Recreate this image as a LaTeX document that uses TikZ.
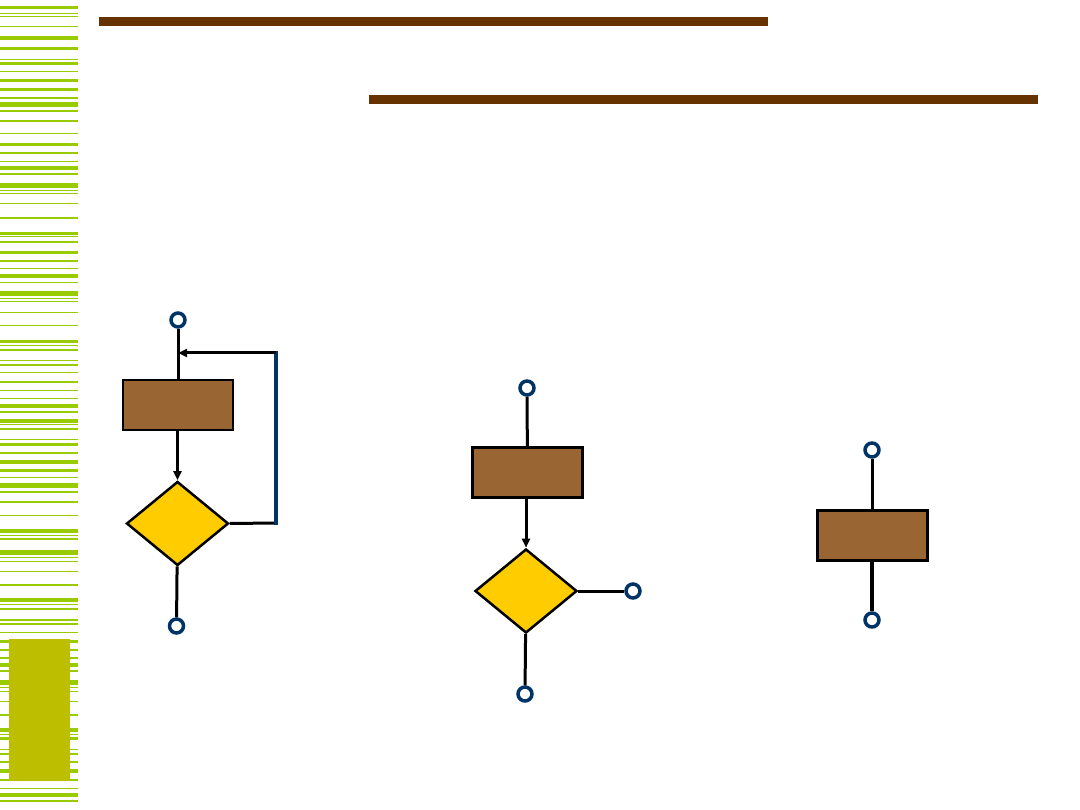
\documentclass[tikz,border=0pt]{standalone}
\usetikzlibrary{arrows.meta,shapes.geometric}
\definecolor{barbrown}{HTML}{663300}
\definecolor{boxbrown}{HTML}{996633}
\definecolor{testgold}{HTML}{FFCC00}
\definecolor{portnavy}{HTML}{003366}
\definecolor{stripelime}{HTML}{99CC00}
\definecolor{tabolive}{HTML}{BEBE00}
\tikzset{>={Triangle[length=9pt,width=8pt]},
  wire/.style={draw=black,line width=3pt},
  flow/.style={wire,->},
  backline/.style={draw=portnavy,line width=3.5pt,line cap=rect},
  procbox/.style={rectangle,draw=black,line width=2.5pt,fill=boxbrown,
    minimum width=110pt,minimum height=50pt,inner sep=0pt},
  testbox/.style={diamond,draw=black,line width=2.5pt,fill=testgold,
    minimum width=102pt,minimum height=84pt,inner sep=0pt},
  port/.style={circle,draw=portnavy,line width=3.5pt,fill=white,
    minimum size=14pt,inner sep=0pt},
  rule/.style={fill=barbrown}}

\begin{document}
\begin{tikzpicture}[x=1pt,y=-1pt]
\useasboundingbox (0,0) rectangle (1080,810);
% Side band: lime stripes and the olive tab.
\foreach \y/\t in {7.7/3.5,13.3/1,16.3/1.5,26.3/1.5,37.8/3.7,48.5/2.5,59.3/1,63.3/2.7,71.7/1.5,80.7/3.3,
  89.3/2.7,98/1.5,104.3/4.7,110.8/1.7,120.8/1.7,134/1,144.5/2.3,152.8/1.7,161.3/1,168/4,173.8/1.7,
  185.3/4.7,190.3/1,194/1,204/1,217.8/1.7,233.3/2.7,237/1,241.8/1.7,252.3/2.7,260.8/1.7,269/1,
  275.8/3.7,282.3/1.5,293.3/4.7,298.3/1,302/1,312.3/1,326/1,341.3/2.7,345.3/1,350/1.5,360.7/1.5,
  365/2,373/1,382.2/2.3,390.7/1.5,399/1,405.8/3.7,411.8/1.7,420.8/3.7,425/1,428.8/1.7,440/1,
  444.3/2.7,452.8/1.7,461.8/3.7,470.3/2.7,478/1,485.3/4.7,491.8/1.7,501.8/1.7,515/1,530.8/3.7,
  535/1,538.7/2,552.3/4.7,557/1,561/1,571/1,584.8/1.7,599.8/3.7,604/1,608.8/1.7,619.8/1.7,
  623.8/1.7,632/1,641.3/2.7,649.8/1.7,657.8/1.7,664.8/3.7,670.8/1.7,682.3/4.7,687/1,691/1,701/1,
  714.8/1.7,729.8/3.7,734/1,738.3/2.7,749/1,753.8/1.7,761.8/1.7,770.8/3.7,779.8/1.7,788/1,
  794.8/3.7,800.8/1.7}
  \fill[stripelime] (0,{\y-\t/2}) rectangle (78,{\y+\t/2});
\fill[tabolive] (9,639) rectangle (70,781);
% Title rules.
\fill[rule] (99,17.5) rectangle (768,26);\fill[rule] (369,95) rectangle (1038,103.7);
% Loop: process, test, jump back above the process.
\node[port] (lin) at (178,320) {};\node[procbox] (lproc) at (178,405) {};
\node[testbox] (ltest) at (177.5,523.5) {};\node[port] (lout) at (176.5,626) {};
\coordinate (lturn) at (276,523);\coordinate (ltop) at (276,353);
\draw[wire] (lin) -- (lproc);\draw[flow] (lproc.south -| ltest) -- (ltest);\draw[wire] (ltest) -- (lout);
\draw[wire] (ltest.east) -- (lturn);\draw[backline] (lturn) -- (ltop);
\draw[flow] (ltop) -- (lin |- ltop);
% Branch: process, test with two exits.
\node[port] (min) at (527,388) {};\node[procbox] (mproc) at (527.5,472.5) {};
\node[testbox] (mtest) at (526,591) {};\node[port] (mright) at (633,591) {};
\node[port] (mout) at (525,694) {};
\draw[wire] (min) -- (mproc);\draw[flow] (mproc.south -| mtest) -- (mtest);
\draw[wire] (mtest) -- (mright);\draw[wire] (mtest) -- (mout);
% Sequence: a single process.
\node[port] (rin) at (872,450) {};\node[procbox] (rproc) at (872.5,535.5) {};
\node[port] (rout) at (872,620) {};
\draw[wire] (rin) -- (rin |- rproc.north);\draw[wire,line width=4pt] (rout |- rproc.south) -- (rout);
\end{tikzpicture}
\end{document}
